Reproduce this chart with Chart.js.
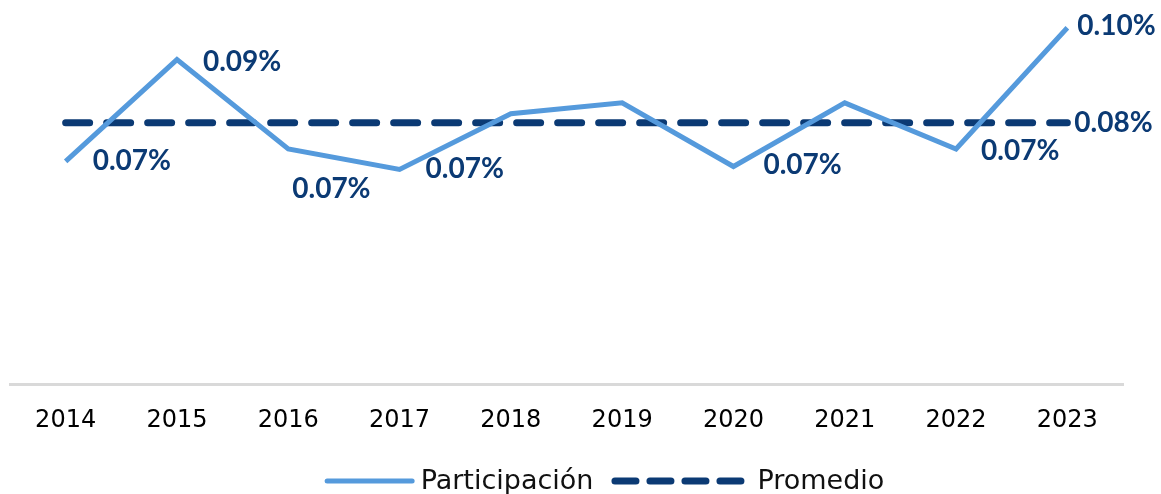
<!DOCTYPE html>
<html>
<head>
<meta charset="utf-8">
<script src="https://cdn.jsdelivr.net/npm/chart.js@4.4.1/dist/chart.umd.min.js"></script>
<style>
  html, body { margin: 0; padding: 0; background: #fff; }
  #wrap { width: 1161px; height: 494px; position: relative; }
</style>
</head>
<body>
<div id="wrap"><canvas id="chart" width="1161" height="494"></canvas></div>
<script>
// data (percent)
const years = ["2014", "2015", "2016", "2017", "2018", "2019", "2020", "2021", "2022", "2023"];
const participacion = [0.0719, 0.0933, 0.0745, 0.0702, 0.0819, 0.0842, 0.0708, 0.0842, 0.0745, 0.1000];
const promedio = [0.08, 0.08, 0.08, 0.08, 0.08, 0.08, 0.08, 0.08, 0.08, 0.08];

// which points carry a value label, and where it sits relative to the point
const partLabels = { 0: [27, 0], 1: [26, 2], 2: [4, 40], 3: [26, 0], 6: [30, -2], 8: [25, 2], 9: [10, -2] };
const promLabels = { 9: [7, 0] };

const lightBlue = "#559ADC";
const navy = "#0B3A74";
const labelFont = "Lato, 'Open Sans', sans-serif";
const textFont = "'DejaVu Sans', sans-serif";

const valueLabels = {
  id: "valueLabels",
  afterDatasetsDraw(chart) {
    const ctx = chart.ctx;
    ctx.save();
    ctx.font = "bold 28px " + labelFont;
    ctx.fillStyle = navy;
    ctx.textAlign = "left";
    ctx.textBaseline = "middle";
    [partLabels, promLabels].forEach((offsets, di) => {
      const meta = chart.getDatasetMeta(di);
      const values = chart.data.datasets[di].data;
      Object.keys(offsets).forEach((k) => {
        const pt = meta.data[k];
        const off = offsets[k];
        ctx.fillText(values[k].toFixed(2) + "%", pt.x + off[0], pt.y + off[1]);
      });
    });
    ctx.restore();
  },
};

// legend with different sample lengths per series, like the original
const bottomLegend = {
  id: "bottomLegend",
  afterDraw(chart) {
    const ctx = chart.ctx;
    const y = 481;
    const items = [
      { text: "Participación", color: lightBlue, width: 5, dash: [], sample: 90 },
      { text: "Promedio", color: navy, width: 7, dash: [21, 14], sample: 140 },
    ];
    ctx.save();
    ctx.font = "27px " + textFont;
    ctx.textBaseline = "middle";
    let total = 0;
    items.forEach((it, i) => {
      it.tw = ctx.measureText(it.text).width;
      total += it.sample + 6 + it.tw + (i < items.length - 1 ? 18 : 0);
    });
    // the original legend sits a bit right of centre
    let x = (chart.width - total) / 2 + 24;
    items.forEach((it) => {
      ctx.beginPath();
      ctx.setLineDash(it.dash);
      ctx.lineCap = "round";
      ctx.lineWidth = it.width;
      ctx.strokeStyle = it.color;
      ctx.moveTo(x + it.width / 2, y);
      ctx.lineTo(x + it.sample - it.width / 2, y);
      ctx.stroke();
      ctx.setLineDash([]);
      ctx.fillStyle = "#111";
      ctx.fillText(it.text, x + it.sample + 6, y + 1);
      x += it.sample + 6 + it.tw + 18;
    });
    ctx.restore();
  },
};

new Chart(document.getElementById("chart"), {
  type: "line",
  data: {
    labels: years,
    datasets: [
      {
        label: "Participación",
        data: participacion,
        borderColor: lightBlue,
        borderWidth: 5,
        pointRadius: 0,
        tension: 0,
        borderJoinStyle: "miter",
      },
      {
        label: "Promedio",
        data: promedio,
        borderColor: navy,
        borderWidth: 7,
        borderDash: [24, 17],
        borderCapStyle: "round",
        pointRadius: 0,
      },
    ],
  },
  options: {
    responsive: false,
    animation: false,
    layout: { padding: { left: 10, right: 38, top: 4, bottom: 45 } },
    plugins: {
      legend: { display: false },
      tooltip: { enabled: false },
    },
    scales: {
      x: {
        offset: true,
        grid: { display: false },
        border: { display: true, color: "#d9d9d9", width: 3 },
        ticks: {
          color: "#000",
          padding: 14,
          font: { family: textFont, size: 24 },
        },
      },
      y: {
        display: false,
        min: 0.025,
        max: 0.105,
      },
    },
  },
  plugins: [valueLabels, bottomLegend],
});
</script>
</body>
</html>
